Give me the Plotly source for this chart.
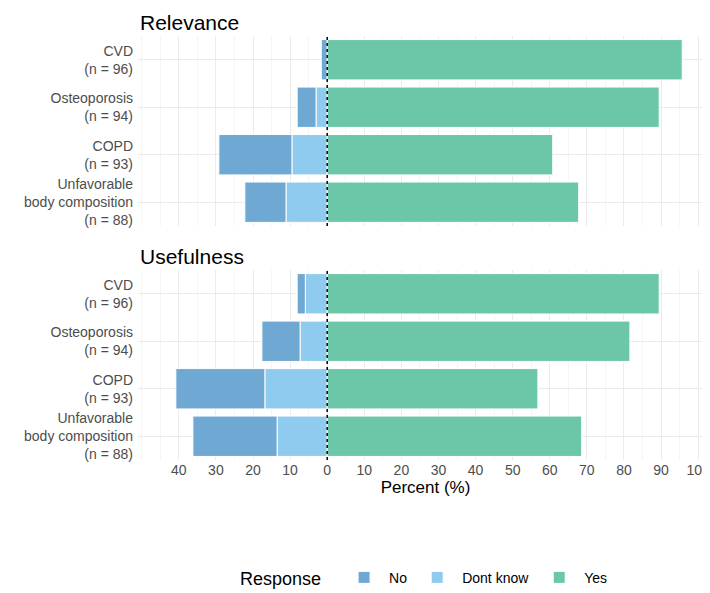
import plotly.graph_objects as go
from plotly.subplots import make_subplots

categories = ["CVD<br>(n = 96)", "Osteoporosis<br>(n = 94)", "COPD<br>(n = 93)",
              "Unfavorable<br>body composition<br>(n = 88)"]
panels = ["Relevance", "Usefulness"]
no_vals = {"Relevance": [1.6, 5.1, 19.7, 11.1], "Usefulness": [2.2, 10.3, 24.0, 22.7]}
dk_vals = {"Relevance": [0.0, 3.0, 9.5, 11.1], "Usefulness": [5.9, 7.3, 16.8, 13.5]}
yes_vals = {"Relevance": [95.7, 89.5, 60.8, 67.8], "Usefulness": [89.5, 81.6, 56.8, 68.6]}
tick_vals = [-40, -30, -20, -10, 0, 10, 20, 30, 40, 50, 60, 70, 80, 90, 100]
tick_text = [str(abs(v)) for v in tick_vals]

colors = {"No": "#6fa8d3", "Dont know": "#8fcbef", "Yes": "#6cc7a9"}

fig = make_subplots(rows=2, cols=1, shared_xaxes=True, vertical_spacing=0.104)
for r, p in enumerate(panels, start=1):
    show = r == 1
    # stacking order: Dont know nearest zero, then No
    fig.add_trace(go.Bar(y=categories, x=[-v for v in dk_vals[p]], name="Dont know", orientation="h",
                         marker=dict(color=colors["Dont know"], line=dict(color="white", width=1)),
                         legendrank=2, showlegend=show), row=r, col=1)
    fig.add_trace(go.Bar(y=categories, x=[-v for v in no_vals[p]], name="No", orientation="h",
                         marker=dict(color=colors["No"], line=dict(color="white", width=1)),
                         legendrank=1, showlegend=show), row=r, col=1)
    fig.add_trace(go.Bar(y=categories, x=yes_vals[p], name="Yes", orientation="h",
                         marker=dict(color=colors["Yes"], line=dict(color="white", width=1)),
                         legendrank=3, showlegend=show), row=r, col=1)
    fig.add_vline(x=0, line=dict(color="black", width=1.5, dash="dot"), row=r, col=1)

fig.update_xaxes(range=[-51, 104], tickvals=tick_vals, ticktext=tick_text, showgrid=True,
                 gridcolor="#ebebeb", zeroline=False, tickfont=dict(size=14, color="#4d4d4d"),
                 minor=dict(showgrid=True, gridcolor="#f5f5f5", dtick=5))
fig.update_xaxes(title_text="Percent (%)", title_font=dict(size=17, color="black"),
                 title_standoff=4, row=2, col=1)
fig.update_xaxes(showticklabels=False, row=1, col=1)
fig.update_yaxes(autorange="reversed", showgrid=True, gridcolor="#ebebeb",
                 tickfont=dict(size=14, color="#4d4d4d"), ticks="", ticklabelstandoff=4)

for i, p in enumerate(panels):
    fig.add_annotation(text=p, x=0, xref="paper", xanchor="left", yref="paper",
                       y=1.0 if i == 0 else 0.448, yanchor="bottom", showarrow=False,
                       font=dict(size=21, color="black"))

fig.update_layout(
    width=710, height=593, barmode="relative", bargap=0.15,
    plot_bgcolor="white", paper_bgcolor="white",
    font=dict(family="Liberation Sans, Arial", color="black"),
    margin=dict(l=130, r=5, t=28, b=103),
    legend=dict(orientation="h", x=0.5, xanchor="center", y=-0.24, yanchor="top",
                title=dict(text="Response  ", font=dict(size=18)), font=dict(size=14),
                traceorder="normal", itemwidth=40),
)
fig.write_html("out.html")
